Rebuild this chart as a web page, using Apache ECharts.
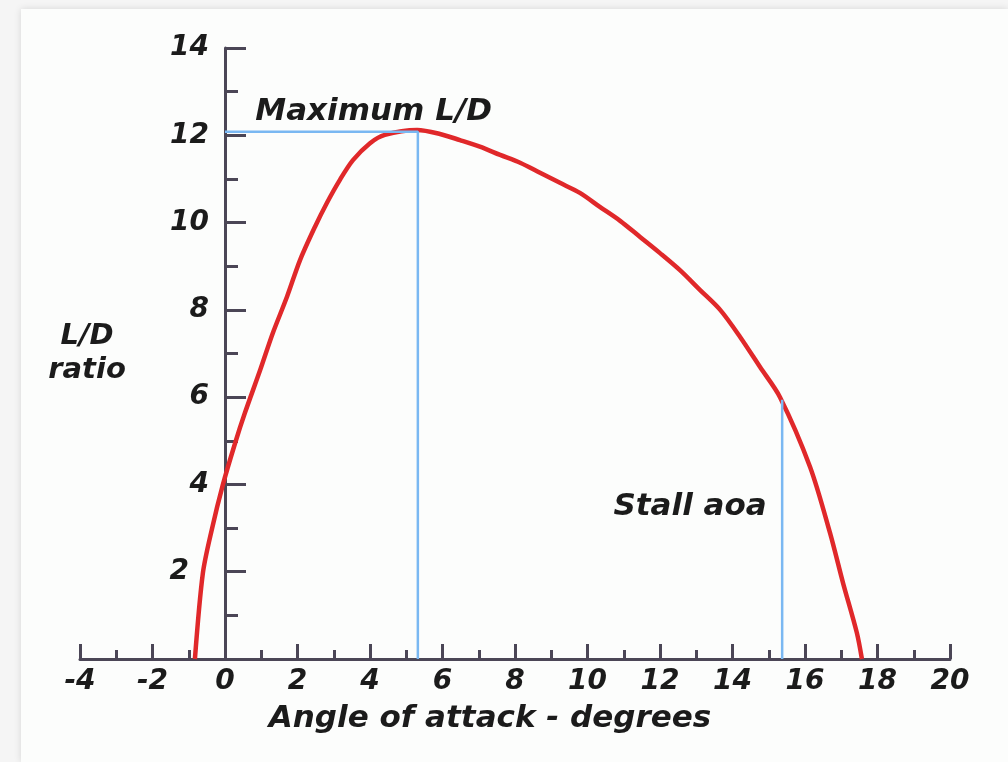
<!DOCTYPE html>
<html>
<head>
<meta charset="utf-8">
<script src="https://cdn.jsdelivr.net/npm/echarts@6/dist/echarts.min.js"></script>
<style>
  html, body { margin: 0; padding: 0; background: #f5f5f5; }
  #card { position: absolute; left: 21px; top: 9px; right: 0; bottom: 0; background: #fcfdfc; box-shadow: 0 0 7px rgba(0,0,0,0.13); }
  #chart { position: absolute; left: 0; top: 0; width: 1008px; height: 762px; }
</style>
</head>
<body>
<div id="card"></div>
<div id="chart"></div>
<script>
// Angle of attack (degrees) and L/D ratio
const angle   = [-0.83, -0.61, -0.36, -0.06, 0.28, 0.55, 0.97, 1.32, 1.71, 2.07, 2.48, 2.81, 3.17, 3.53, 4.00, 4.41, 5.30, 5.93, 6.48, 7.03, 7.59, 8.14, 8.69, 9.24, 9.79, 10.34, 10.90, 11.45, 12.00, 12.55, 13.10, 13.66, 14.21, 14.76, 15.31, 16.14, 16.69, 17.05, 17.43, 17.57];
const ldRatio = [0.00, 1.97, 2.98, 3.99, 4.95, 5.64, 6.62, 7.47, 8.30, 9.14, 9.90, 10.45, 10.98, 11.43, 11.82, 12.01, 12.12, 12.03, 11.89, 11.74, 11.55, 11.37, 11.14, 10.91, 10.68, 10.36, 10.04, 9.67, 9.30, 8.91, 8.46, 8.00, 7.38, 6.69, 6.00, 4.40, 2.89, 1.74, 0.60, 0.00];

// Reference markers
const maxLD = [5.32, 12.08];   // [angle, L/D] at maximum L/D
const stall = [15.37, 5.94];   // [angle, L/D] at stall angle of attack

// Annotation texts and anchors (data units)
const annotationText = ['Maximum L/D', 'Stall aoa'];
const annotationAt = [[4.10, 12.53], [12.83, 3.48]];

const xTitle = 'Angle of attack - degrees';
const yTitle = 'L/D\nratio';

const axisColor = '#4b4656';
const textColor = '#1b1b1b';
const font = 'DejaVu Sans';

const curve = angle.map((a, i) => [a, ldRatio[i]]);

const chart = echarts.init(document.getElementById('chart'), null, { renderer: 'canvas' });
chart.setOption({
  backgroundColor: 'transparent',
  animation: false,
  grid: { left: 80, right: 58, top: 48, bottom: 103, containLabel: false, outerBoundsMode: 'none' },
  xAxis: {
    type: 'value', min: -4, max: 20, interval: 2,
    axisLine: { onZero: true, lineStyle: { color: axisColor, width: 3 } },
    axisTick: { inside: true, length: 15, lineStyle: { color: axisColor, width: 3 } },
    minorTick: { show: true, splitNumber: 2, length: 9, lineStyle: { color: axisColor, width: 3 } },
    splitLine: { show: false },
    axisLabel: { margin: 9, fontSize: 28, fontWeight: 'bold', fontStyle: 'italic', fontFamily: font, color: textColor },
    name: xTitle, nameLocation: 'middle', nameGap: 44,
    nameTextStyle: { fontSize: 31, fontWeight: 'bold', fontStyle: 'italic', fontFamily: font, color: textColor, padding: [0, 50, 0, 0] }
  },
  yAxis: {
    type: 'value', min: 0, max: 14, interval: 2, offset: -145,
    axisLine: { onZero: false, lineStyle: { color: axisColor, width: 3 } },
    axisTick: { inside: true, length: 21, lineStyle: { color: axisColor, width: 3 } },
    minorTick: { show: true, splitNumber: 2, length: 13, lineStyle: { color: axisColor, width: 3 } },
    splitLine: { show: false },
    axisLabel: {
      showMinLabel: false, margin: 16, fontSize: 28, fontWeight: 'bold', fontStyle: 'italic', fontFamily: font, color: textColor,
      formatter: v => v === 2 ? '{s|' + v + '}' : String(v),
      rich: { s: { fontSize: 28, fontWeight: 'bold', fontStyle: 'italic', fontFamily: font, color: textColor, padding: [0, 20, 0, 0] } }
    },
    name: yTitle, nameLocation: 'middle', nameGap: 138, nameRotate: 0,
    nameTextStyle: { fontSize: 29, fontWeight: 'bold', fontStyle: 'italic', fontFamily: font, color: textColor, align: 'center', verticalAlign: 'middle', lineHeight: 34 }
  },
  series: [
    {
      type: 'line', data: curve, smooth: 0.3, showSymbol: false, z: 2,
      lineStyle: { color: '#e0282a', width: 4.5 }
    },
    {
      type: 'line', data: [[0, maxLD[1]], maxLD, [maxLD[0], 0]], showSymbol: false, z: 3,
      lineStyle: { color: '#7ab8f2', width: 2.5 }
    },
    {
      type: 'line', data: [[stall[0], 0], stall], showSymbol: false, z: 3,
      lineStyle: { color: '#7ab8f2', width: 2.5 }
    },
    {
      type: 'scatter', symbolSize: 0, silent: true, z: 4,
      itemStyle: { opacity: 1 },
      data: annotationAt.map((p, i) => ({ value: p, name: annotationText[i] })),
      label: { show: true, position: [0, 0], align: 'center', verticalAlign: 'middle', formatter: p => p.name, fontSize: 31, fontWeight: 'bold', fontStyle: 'italic', fontFamily: font, color: textColor, opacity: 1 }
    }
  ]
});
</script>
</body>
</html>
